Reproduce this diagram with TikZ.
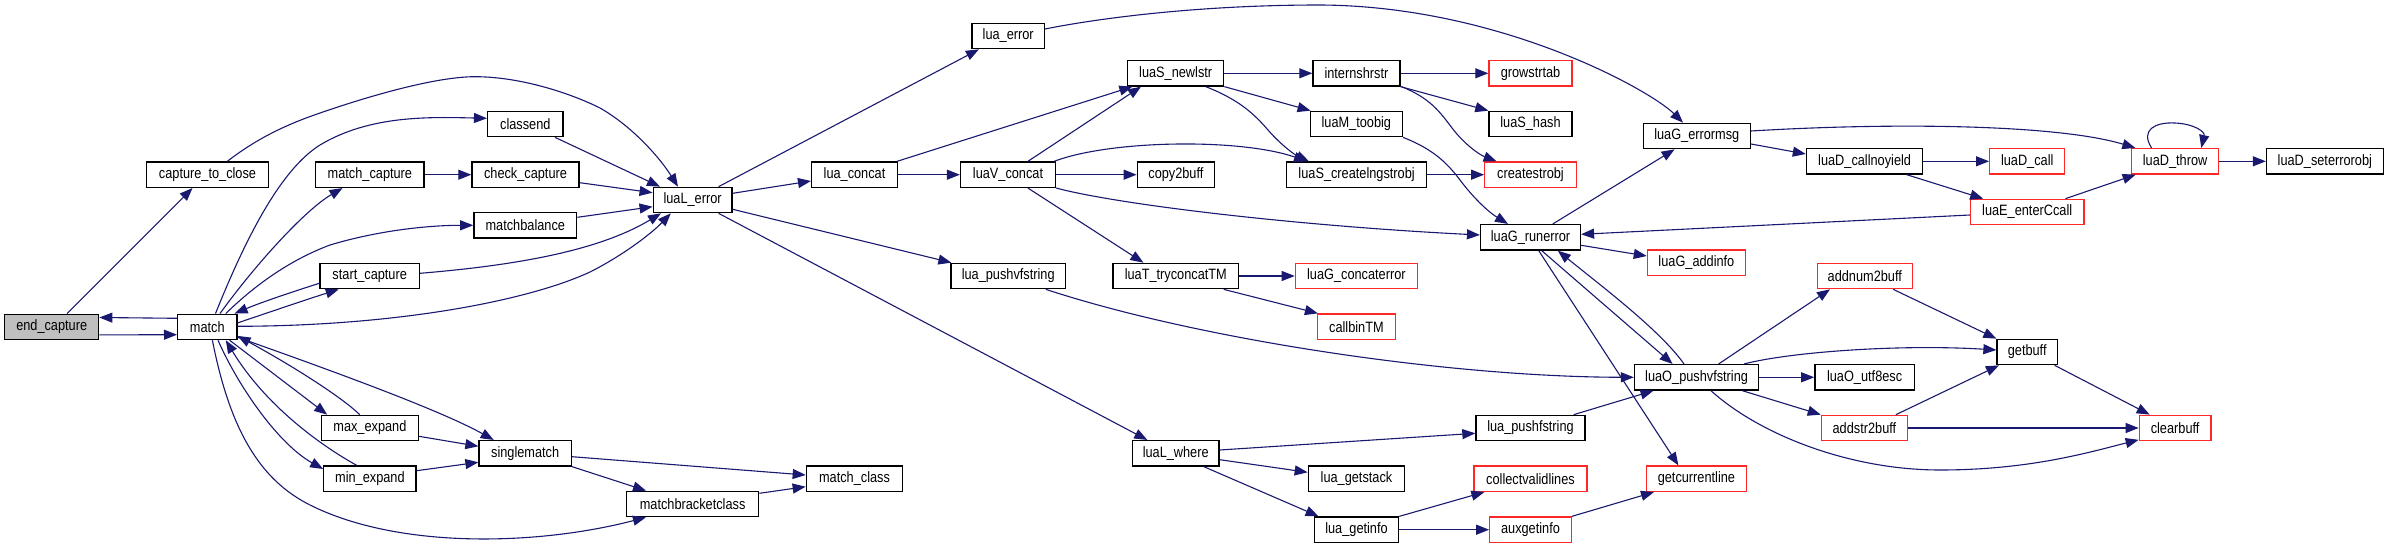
\documentclass[tikz,border=0pt]{standalone}
\usepackage{fontspec}
\setmainfont{Liberation Sans}[FakeStretch=0.85]
\usetikzlibrary{arrows.meta,calc}
\definecolor{edgeblue}{RGB}{25,25,112}
\definecolor{nodered}{RGB}{255,40,40}
\definecolor{nodegray}{RGB}{191,191,191}
\tikzset{
  box/.style={draw=black, fill=white, line width=1.3pt, inner sep=0pt, minimum height=25.4pt, font=\fontsize{15pt}{18pt}\selectfont},
  redbox/.style={box, draw=nodered},
  graybox/.style={box, fill=nodegray},
  edge/.style={draw=edgeblue, line width=1.1pt, -{Triangle[length=13pt,width=10pt]}}
}
\begin{document}
\begin{tikzpicture}[x=1pt,y=-1pt]
\fill[white] (0,0) rectangle (2388,548);
\useasboundingbox (0,0) rectangle (2388,548);
% nodes
\node[graybox, minimum width=94.1pt] (endcap) at (51.7,326.9) {end\_capture};
\node[box, minimum width=59.3pt] (match) at (207.3,326.9) {match};
\node[box, minimum width=121.7pt] (cap2close) at (207.5,174.7) {capture\_to\_close};
\node[box, minimum width=75.4pt] (classend) at (525.3,124) {classend};
\node[box, minimum width=108.3pt] (matchcap) at (369.9,174.7) {match\_capture};
\node[box, minimum width=107.1pt] (checkcap) at (525.5,174.7) {check\_capture};
\node[box, minimum width=102.9pt] (matchbal) at (525.3,225.3) {matchbalance};
\node[box, minimum width=99.4pt] (startcap) at (369.7,276) {start\_capture};
\node[box, minimum width=96.8pt] (maxexp) at (369.9,428) {max\_expand};
\node[box, minimum width=92.2pt] (minexp) at (369.9,478.7) {min\_expand};
\node[box, minimum width=92.4pt] (singlematch) at (525.2,453.3) {singlematch};
\node[box, minimum width=78.8pt] (lualerror) at (692.6,200) {luaL\_error};
\node[box, minimum width=132.4pt] (mbclass) at (692.6,504) {matchbracketclass};
\node[box, minimum width=96.4pt] (matchclass) at (854.5,478.7) {match\_class};
\node[box, minimum width=85.8pt] (luaconcat) at (854.5,174.7) {lua\_concat};
\node[box, minimum width=72.3pt] (luaerror) at (1008.2,36) {lua\_error};
\node[box, minimum width=94.9pt] (luavconcat) at (1008,174.7) {luaV\_concat};
\node[box, minimum width=114.4pt] (luapushvf) at (1008.2,276) {lua\_pushvfstring};
\node[box, minimum width=96pt] (luasnewlstr) at (1175.7,73.3) {luaS\_newlstr};
\node[box, minimum width=77.2pt] (copybuff) at (1175.9,174.7) {copy2buff};
\node[box, minimum width=125.9pt] (luattry) at (1175.8,276) {luaT\_tryconcatTM};
\node[box, minimum width=86.8pt] (luawhere) at (1175.7,453.3) {luaL\_where};
\node[box, minimum width=86.9pt] (intern) at (1356.4,73.3) {internshrstr};
\node[box, minimum width=92.2pt] (luamtoobig) at (1356.3,124) {luaM\_toobig};
\node[box, minimum width=140.1pt] (luascreate) at (1356.6,174.7) {luaS\_createlngstrobj};
\node[redbox, minimum width=122.1pt] (luagconcat) at (1356.4,276) {luaG\_concaterror};
\node[redbox, minimum width=77.7pt] (callbintm) at (1356.4,326.7) {callbinTM};
\node[box, minimum width=96.4pt] (luagetstack) at (1356.5,478.7) {lua\_getstack};
\node[box, minimum width=84.2pt] (luagetinfo) at (1356.5,529.7) {lua\_getinfo};
\node[redbox, minimum width=83.1pt] (growstrtab) at (1530.5,73.3) {growstrtab};
\node[box, minimum width=83.1pt] (luashash) at (1530.5,124) {luaS\_hash};
\node[redbox, minimum width=91.5pt] (createstrobj) at (1530.5,174.7) {createstrobj};
\node[box, minimum width=99.9pt] (luagrunerror) at (1530.5,237.3) {luaG\_runerror};
\node[box, minimum width=109.1pt] (luapushf) at (1530.5,428) {lua\_pushfstring};
\node[redbox, minimum width=112.9pt] (collect) at (1530.5,478.7) {collectvalidlines};
\node[redbox, minimum width=81.5pt] (auxgetinfo) at (1530.5,529.7) {auxgetinfo};
\node[box, minimum width=107.1pt] (luagerrormsg) at (1696.8,136) {luaG\_errormsg};
\node[redbox, minimum width=98pt] (luagaddinfo) at (1696.4,262.7) {luaG\_addinfo};
\node[box, minimum width=124.3pt] (luaopushvf) at (1696.6,377.3) {luaO\_pushvfstring};
\node[redbox, minimum width=100.3pt] (getcurline) at (1696.4,478.7) {getcurrentline};
\node[box, minimum width=116.3pt] (luadcallny) at (1864.6,161.3) {luaD\_callnoyield};
\node[redbox, minimum width=95.3pt] (addnum) at (1864.8,276) {addnum2buff};
\node[box, minimum width=99.5pt] (luaoutf) at (1864.6,377.3) {luaO\_utf8esc};
\node[redbox, minimum width=86.1pt] (addstr) at (1864.4,428) {addstr2buff};
\node[redbox, minimum width=75pt] (luadcall) at (2027.2,161.3) {luaD\_call};
\node[redbox, minimum width=113.3pt] (luaeenter) at (2027.2,212) {luaE\_enterCcall};
\node[box, minimum width=60.4pt] (getbuff) at (2027.2,352) {getbuff};
\node[redbox, minimum width=86.8pt] (luadthrow) at (2175.1,161.3) {luaD\_throw};
\node[redbox, minimum width=71.6pt] (clearbuff) at (2175.1,428) {clearbuff};
\node[box, minimum width=116.7pt] (luadseterr) at (2324.8,161.3) {luaD\_seterrorobj};
% edges
\draw[edge] ($(endcap.east)+(0,8)$) -- ($(match.west)+(0,7.8)$);
\draw[edge] ($(match.west)+(0,-8.6)$) -- ($(endcap.east)+(0,-9.4)$);
\draw[edge] ($(endcap.north)+(15.3,0)$) -- ($(cap2close.south)+(-15,0)$);
\draw[edge] ($(cap2close.north)+(19.8,0)$) .. controls (255,140) and (280,128) .. (306,118)
  .. controls (350,102) and (430,76.7) .. (475,76.7)
  .. controls (520,76.7) and (570,93) .. (600,108)
  .. controls (630,125) and (658,155) .. ($(lualerror.north)+(-14.6,0)$);
\draw[edge] ($(match.north)+(8.2,0)$) .. controls (245,240) and (280,170) .. (320,145)
  .. controls (370,115) and (430,117) .. ($(classend.west)+(0,-5.7)$);
\draw[edge] ($(match.north)+(12.7,0)$) .. controls (255,265) and (305,210) .. ($(matchcap.south)+(-27.4,0)$);
\draw[edge] (matchcap.east) -- (checkcap.west);
\draw[edge] ($(checkcap.east)+(0,8)$) -- ($(lualerror.west)+(0,-7.3)$);
\draw[edge] ($(classend.south)+(29.7,0)$) -- ($(lualerror.north)+(-32.6,0)$);
\draw[edge] ($(match.north)+(18.5,0)$) .. controls (255,285) and (290,260) .. (330,245)
  .. controls (380,230) and (430,225.3) .. (matchbal.west);
\draw[edge] ($(matchbal.east)+(0,-8)$) -- ($(lualerror.west)+(0,6.7)$);
\draw[edge] ($(startcap.east)+(0,-2.7)$) .. controls (520,265) and (600,250) .. ($(lualerror.south)+(-31.6,0)$);
\draw[edge] ($(match.east)+(0,-0.6)$) .. controls (400,326) and (530,300) .. (590,272)
  .. controls (620,257) and (650,235) .. ($(lualerror.south)+(-21.8,0)$);
\draw[edge] ($(startcap.west)+(0,7.3)$) .. controls (295,291) and (262,302) .. ($(match.north east)+(-3,0)$);
\draw[edge] ($(match.east)+(0,-4)$) .. controls (270,312) and (305,300) .. ($(startcap.south)+(-31,0)$);
\draw[edge] ($(match.south)+(22.3,0)$) -- ($(maxexp.north)+(-42.7,0)$);
\draw[edge] ($(maxexp.north)+(-10.2,0)$) .. controls (345,400) and (300,370) .. ($(match.east)+(0,9)$);
\draw[edge] ($(match.south)+(10.7,0)$) .. controls (240,390) and (280,445) .. ($(minexp.west)+(0,-9.7)$);
\draw[edge] ($(minexp.north)+(-13.2,0)$) .. controls (320,445) and (265,405) .. ($(match.south)+(18.5,0)$);
\draw[edge] ($(match.east)+(0,10.4)$) .. controls (330,370) and (440,410) .. ($(singlematch.north)+(-31.5,0)$);
\draw[edge] ($(maxexp.east)+(0,8.3)$) -- ($(singlematch.west)+(0,-7)$);
\draw[edge] ($(minexp.east)+(0,-8)$) -- ($(singlematch.west)+(0,9)$);
\draw[edge] ($(match.south)+(5.1,0)$) .. controls (230,430) and (260,480) .. (310,505)
  .. controls (400,550) and (540,545) .. ($(mbclass.south)+(-46.7,0)$);
\draw[edge] ($(singlematch.east)+(0,3.4)$) -- ($(matchclass.west)+(0,-3.7)$);
\draw[edge] (singlematch.south east) -- ($(mbclass.north)+(-46.6,0)$);
\draw[edge] ($(mbclass.east)+(0,-10.7)$) -- ($(matchclass.west)+(0,8)$);
\draw[edge] ($(lualerror.north)+(26,0)$) -- ($(luaerror.south)+(-29.3,0)$);
\draw[edge] ($(lualerror.east)+(0,-6.7)$) -- ($(luaconcat.west)+(0,6.3)$);
\draw[edge] ($(lualerror.east)+(0,9.3)$) -- ($(luapushvf.north west)+(1,0)$);
\draw[edge] ($(lualerror.south)+(26,0)$) -- ($(luawhere.north)+(-28.4,0)$);
\draw[edge] ($(luaerror.east)+(0,-7)$) .. controls (1100,18) and (1200,5) .. (1320,5)
  .. controls (1500,6) and (1650,90) .. ($(luagerrormsg.north)+(-13.8,0)$);
\draw[edge] ($(luaconcat.north east)+(-1,0)$) -- ($(luasnewlstr.south west)+(5.3,0)$);
\draw[edge] (luaconcat.east) -- (luavconcat.west);
\draw[edge] ($(luavconcat.north)+(19.9,0)$) -- ($(luasnewlstr.south)+(-34.7,0)$);
\draw[edge] ($(luavconcat.north east)+(-2,0)$) .. controls (1110,140) and (1240,138) .. ($(luascreate.north)+(-49.6,0)$);
\draw[edge] (luavconcat.east) -- (copybuff.west);
\draw[edge] (luavconcat.south east) .. controls (1120,205) and (1300,226) .. ($(luagrunerror.west)+(0,-2.3)$);
\draw[edge] ($(luavconcat.south)+(19.9,0)$) -- ($(luattry.north)+(-32.4,0)$);
\draw[edge] (luasnewlstr.east) -- (intern.west);
\draw[edge] (luasnewlstr.south east) -- ($(luamtoobig.north west)+(1,0)$);
\draw[edge] ($(luasnewlstr.south)+(30,0)$) .. controls (1240,100) and (1255,115) .. (1268,130)
  .. controls (1281,145) and (1295,155) .. ($(luascreate.north)+(-47.6,0)$);
\draw[edge] (intern.east) -- (growstrtab.west);
\draw[edge] (intern.south east) -- (luashash.north west);
\draw[edge] ($(intern.south east)+(1,0)$) .. controls (1430,98) and (1440,112) .. (1452,128)
  .. controls (1465,145) and (1480,155) .. ($(createstrobj.north)+(-33.9,0)$);
\draw[edge] (luamtoobig.south east) .. controls (1430,148) and (1445,160) .. (1460,180)
  .. controls (1475,200) and (1490,213) .. ($(luagrunerror.north)+(-22.5,0)$);
\draw[edge] (luascreate.east) -- (createstrobj.west);
\draw[edge] (luattry.east) -- (luagconcat.west);
\draw[edge] ($(luattry.south east)+(-15.7,0)$) -- ($(callbintm.north west)+(1,0)$);
\draw[edge] ($(luapushvf.south)+(37.6,0)$) .. controls (1200,340) and (1450,377) .. (luaopushvf.west);
\draw[edge] ($(luawhere.east)+(0,-3.3)$) -- ($(luapushf.west)+(0,5.3)$);
\draw[edge] ($(luawhere.east)+(0,6.4)$) -- ($(luagetstack.west)+(0,-6.4)$);
\draw[edge] ($(luawhere.south)+(28.1,0)$) -- ($(luagetinfo.north)+(-37.9,0)$);
\draw[edge] (luagetinfo.north east) -- ($(collect.south west)+(11,0)$);
\draw[edge] (luagetinfo.east) -- (auxgetinfo.west);
\draw[edge] (auxgetinfo.north east) -- ($(getcurline.south west)+(8.4,0)$);
\draw[edge] ($(luapushf.north east)+(-12,0)$) -- ($(luaopushvf.south)+(-43.1,0)$);
\draw[edge] ($(luagrunerror.north)+(22.3,0)$) -- ($(luagerrormsg.south)+(-22.2,0)$);
\draw[edge] ($(luagrunerror.east)+(0,8)$) -- ($(luagaddinfo.west)+(0,-6.7)$);
\draw[edge] ($(luagrunerror.south)+(11.2,0)$) -- ($(luaopushvf.north)+(-24,0)$);
\draw[edge] ($(luaopushvf.north)+(-12.6,0)$) .. controls (1660,330) and (1600,285) .. ($(luagrunerror.south)+(27.3,0)$);
\draw[edge] ($(luagrunerror.south)+(8.2,0)$) -- ($(getcurline.north)+(-18,0)$);
\draw[edge] ($(luaeenter.west)+(0,3)$) -- ($(luagrunerror.east)+(0,-3)$);
\draw[edge] ($(luagerrormsg.east)+(0,8)$) -- ($(luadcallny.west)+(0,-7.3)$);
\draw[edge] ($(luagerrormsg.east)+(0,-5)$) .. controls (1900,122) and (2060,125) .. ($(luadthrow.north west)+(4.3,0)$);
\draw[edge] (luadcallny.east) -- (luadcall.west);
\draw[edge] ($(luadcallny.south)+(42,0)$) -- ($(luaeenter.north)+(-44,0)$);
\draw[edge] ($(luaeenter.north)+(38.3,0)$) -- ($(luadthrow.south west)+(4.6,0)$);
\draw[edge] ($(luadthrow.north)+(-23.5,0)$) .. controls (2140,130) and (2155,122) .. (2175,123)
  .. controls (2195,124) and (2205,132) .. ($(luadthrow.north)+(26.2,0)$);
\draw[edge] (luadthrow.east) -- (luadseterr.west);
\draw[edge] ($(luaopushvf.north)+(22,0)$) -- ($(addnum.south)+(-34.8,0)$);
\draw[edge] ($(luaopushvf.north east)+(-15.3,0)$) .. controls (1790,352) and (1900,344) .. ($(getbuff.west)+(0,-2)$);
\draw[edge] (luaopushvf.east) -- (luaoutf.west);
\draw[edge] ($(luaopushvf.south east)+(-17.2,0)$) -- (addstr.north west);
\draw[edge] ($(luaopushvf.south)+(14.3,0)$) .. controls (1760,435) and (1850,470) .. (1940,470)
  .. controls (2030,470) and (2090,452) .. ($(clearbuff.south west)+(0,-1.5)$);
\draw[edge] ($(addnum.south)+(28.4,0)$) -- (getbuff.north west);
\draw[edge] ($(addstr.north)+(31.5,0)$) -- ($(getbuff.south west)+(2.6,0)$);
\draw[edge] (addstr.east) -- (clearbuff.west);
\draw[edge] ($(getbuff.south east)+(-3.4,0)$) -- ($(clearbuff.north)+(-25.4,0)$);
\end{tikzpicture}
\end{document}
